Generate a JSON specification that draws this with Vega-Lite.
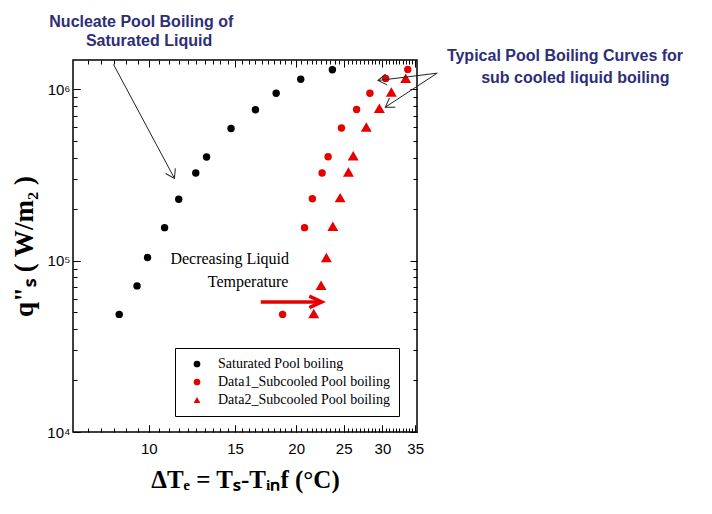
{
  "$schema": "https://vega.github.io/schema/vega-lite/v6.json",
  "width": 344,
  "height": 372,
  "autosize": {"type": "none"},
  "padding": {"left": 73, "top": 60, "right": 295, "bottom": 82},
  "background": "white",
  "config": {
    "view": {"stroke": "black", "strokeWidth": 1.5},
    "axis": {"labelColor": "black", "titleColor": "black"}
  },
  "resolve": {"axis": {"x": "independent", "y": "independent"}},
  "encoding": {
    "x": {"field": "dT", "type": "quantitative", "scale": {"type": "log", "domain": [7, 35.3], "nice": false, "zero": false}, "axis": null},
    "y": {"field": "q", "type": "quantitative", "scale": {"type": "log", "domain": [10000, 1486000], "nice": false, "zero": false}, "axis": null}
  },
  "layer": [
    {
      "data": {"values": [
        {"dT": 8.70, "q": 48600, "series": "Saturated Pool boiling"},
        {"dT": 9.46, "q": 71300, "series": "Saturated Pool boiling"},
        {"dT": 9.94, "q": 104500, "series": "Saturated Pool boiling"},
        {"dT": 10.77, "q": 156000, "series": "Saturated Pool boiling"},
        {"dT": 11.51, "q": 228700, "series": "Saturated Pool boiling"},
        {"dT": 12.47, "q": 325500, "series": "Saturated Pool boiling"},
        {"dT": 13.12, "q": 403600, "series": "Saturated Pool boiling"},
        {"dT": 14.72, "q": 592000, "series": "Saturated Pool boiling"},
        {"dT": 16.51, "q": 761000, "series": "Saturated Pool boiling"},
        {"dT": 18.20, "q": 951000, "series": "Saturated Pool boiling"},
        {"dT": 20.43, "q": 1148000, "series": "Saturated Pool boiling"},
        {"dT": 23.71, "q": 1303000, "series": "Saturated Pool boiling"},
        {"dT": 18.76, "q": 48600, "series": "Data1_Subcooled Pool boiling"},
        {"dT": 20.80, "q": 156000, "series": "Data1_Subcooled Pool boiling"},
        {"dT": 21.58, "q": 230000, "series": "Data1_Subcooled Pool boiling"},
        {"dT": 22.59, "q": 325500, "series": "Data1_Subcooled Pool boiling"},
        {"dT": 23.24, "q": 405000, "series": "Data1_Subcooled Pool boiling"},
        {"dT": 24.74, "q": 596000, "series": "Data1_Subcooled Pool boiling"},
        {"dT": 26.57, "q": 763000, "series": "Data1_Subcooled Pool boiling"},
        {"dT": 28.29, "q": 951000, "series": "Data1_Subcooled Pool boiling"},
        {"dT": 30.46, "q": 1158000, "series": "Data1_Subcooled Pool boiling"},
        {"dT": 33.80, "q": 1310000, "series": "Data1_Subcooled Pool boiling"},
        {"dT": 33.47, "q": 1164000, "series": "Data2_Subcooled Pool boiling"},
        {"dT": 31.29, "q": 965000, "series": "Data2_Subcooled Pool boiling"},
        {"dT": 29.57, "q": 778000, "series": "Data2_Subcooled Pool boiling"},
        {"dT": 27.81, "q": 603000, "series": "Data2_Subcooled Pool boiling"},
        {"dT": 26.15, "q": 410600, "series": "Data2_Subcooled Pool boiling"},
        {"dT": 25.57, "q": 329500, "series": "Data2_Subcooled Pool boiling"},
        {"dT": 24.59, "q": 233600, "series": "Data2_Subcooled Pool boiling"},
        {"dT": 23.76, "q": 159000, "series": "Data2_Subcooled Pool boiling"},
        {"dT": 23.05, "q": 104400, "series": "Data2_Subcooled Pool boiling"},
        {"dT": 22.48, "q": 72000, "series": "Data2_Subcooled Pool boiling"},
        {"dT": 21.72, "q": 49200, "series": "Data2_Subcooled Pool boiling"}
      ]},
      "mark": {"type": "point", "filled": true, "opacity": 1},
      "encoding": {
        "x": {
          "field": "dT", "type": "quantitative",
          "scale": {"type": "log", "domain": [7, 35.3], "nice": false, "zero": false},
          "axis": {
            "orient": "bottom",
            "values": [10, 15, 20, 25, 30, 35],
            "format": "d",
            "domain": false,
            "grid": false,
            "ticks": true,
            "tickColor": "black",
            "tickWidth": 1,
            "offset": -7,
            "tickSize": 7,
            "labelPadding": 9,
            "labelFlush": false,
            "labelOverlap": false,
            "labelFont": "Liberation Sans",
            "labelFontSize": 15,
            "title": "ΔTₑ = Tₛ-Tᵢₙf (°C)",
            "titleFont": "Liberation Serif",
            "titleFontSize": 25,
            "titleFontWeight": "bold",
            "titlePadding": 11
          }
        },
        "y": {
          "field": "q", "type": "quantitative",
          "scale": {"type": "log", "domain": [10000, 1486000], "nice": false, "zero": false},
          "axis": {
            "orient": "left",
            "values": [10000, 100000, 1000000],
            "labelExpr": "datum.value === 10000 ? '10⁴' : datum.value === 100000 ? '10⁵' : '10⁶'",
            "domain": false,
            "grid": false,
            "ticks": true,
            "tickColor": "black",
            "tickWidth": 1,
            "offset": -7,
            "tickSize": 7,
            "labelPadding": 3,
            "labelOverlap": false,
            "labelFlush": false,
            "labelFont": "Liberation Sans",
            "labelFontSize": 15,
            "title": "q\"ₛ ( W/m₂ )",
            "titleFont": "Liberation Serif",
            "titleFontSize": 27,
            "titleFontWeight": "bold",
            "titlePadding": 8
          }
        },
        "color": {
          "field": "series", "type": "nominal",
          "scale": {"domain": ["Saturated Pool boiling", "Data1_Subcooled Pool boiling", "Data2_Subcooled Pool boiling"], "range": ["black", "#e60000", "#e60000"]},
          "legend": {"orient": "none", "legendX": 102, "legendY": 288, "title": null, "strokeColor": "black", "fillColor": "white", "padding": 9, "labelFont": "Liberation Serif", "labelFontSize": 14, "labelColor": "black", "symbolSize": 45, "rowPadding": 4, "labelOffset": 14, "symbolOffset": 6, "labelLimit": 300}
        },
        "shape": {
          "field": "series", "type": "nominal",
          "scale": {"domain": ["Saturated Pool boiling", "Data1_Subcooled Pool boiling", "Data2_Subcooled Pool boiling"], "range": ["circle", "circle", "triangle-up"]},
          "legend": {"orient": "none", "legendX": 102, "legendY": 288, "title": null, "strokeColor": "black", "fillColor": "white", "padding": 9, "labelFont": "Liberation Serif", "labelFontSize": 14, "labelColor": "black", "symbolSize": 45, "rowPadding": 4, "labelOffset": 14, "symbolOffset": 6, "labelLimit": 300}
        },
        "size": {
          "condition": {"test": "datum.series === 'Data2_Subcooled Pool boiling'", "value": 120},
          "value": 55
        }
      }
    },
    {
      "data": {"values": [
        {"dT": 8.47, "q": 1399000, "dT2": 11.28, "q2": 302700},
        {"dT": 38.82, "q": 1245000, "dT2": 29.38, "q2": 1128000},
        {"dT": 38.82, "q": 1245000, "dT2": 30.42, "q2": 788500}
      ]},
      "mark": {"type": "rule", "color": "#222222", "strokeWidth": 1},
      "encoding": {
        "x": {
          "field": "dT", "type": "quantitative",
          "scale": {"type": "log", "domain": [7, 35.3], "nice": false, "zero": false},
          "axis": {"orient": "top", "values": [10, 15, 20, 25, 30, 35], "labels": false, "domain": false, "ticks": false, "grid": true, "gridColor": "black", "gridOpacity": 1, "gridWidth": 1, "gridDash": [7, 358, 7, 1000], "title": null}
        },
        "y": {
          "field": "q", "type": "quantitative",
          "scale": {"type": "log", "domain": [10000, 1486000], "nice": false, "zero": false},
          "axis": {"orient": "right", "values": [10000, 100000, 1000000], "labels": false, "domain": false, "ticks": false, "grid": true, "gridColor": "black", "gridOpacity": 1, "gridWidth": 1, "gridDash": [7, 330, 7, 1000], "title": null}
        },
        "x2": {"field": "dT2"},
        "y2": {"field": "q2"}
      }
    },
    {
      "data": {"values": [{"dT": 11.28, "q": 302700}]},
      "mark": {"type": "point", "shape": "M-0.65,1L0,0L0.65,1", "size": 280, "angle": 152, "filled": false, "color": "#222222", "strokeWidth": 1, "opacity": 1},
      "encoding": {
        "x": {
          "field": "dT", "type": "quantitative",
          "scale": {"type": "log", "domain": [7, 35.3], "nice": false, "zero": false},
          "axis": {"orient": "top", "values": [7.5, 8, 8.5, 9, 9.5, 10.5, 11, 11.5, 12, 12.5, 13, 13.5, 14, 14.5, 15.5, 16, 16.5, 17, 17.5, 18, 18.5, 19, 19.5, 20.5, 21, 21.5, 22, 22.5, 23, 23.5, 24, 24.5, 25.5, 26, 26.5, 27, 27.5, 28, 28.5, 29, 29.5, 30.5, 31, 31.5, 32, 32.5, 33, 33.5, 34, 34.5], "labels": false, "domain": false, "ticks": false, "grid": true, "gridColor": "black", "gridOpacity": 1, "gridWidth": 1, "gridDash": [4, 364, 4, 1000], "title": null}
        },
        "y": {
          "field": "q", "type": "quantitative",
          "scale": {"type": "log", "domain": [10000, 1486000], "nice": false, "zero": false},
          "axis": {"orient": "right", "values": [20000, 30000, 40000, 50000, 60000, 70000, 80000, 90000, 200000, 300000, 400000, 500000, 600000, 700000, 800000, 900000], "labels": false, "domain": false, "ticks": false, "grid": true, "gridColor": "black", "gridOpacity": 1, "gridWidth": 1, "gridDash": [4, 336, 4, 1000], "title": null}
        }
      }
    },
    {
      "data": {"values": [{"dT": 29.38, "q": 1128000}]},
      "mark": {"type": "point", "shape": "M-0.65,1L0,0L0.65,1", "size": 280, "angle": 263, "filled": false, "color": "#222222", "strokeWidth": 1, "opacity": 1}
    },
    {
      "data": {"values": [{"dT": 30.42, "q": 788500}]},
      "mark": {"type": "point", "shape": "M-0.65,1L0,0L0.65,1", "size": 280, "angle": 237, "filled": false, "color": "#222222", "strokeWidth": 1, "opacity": 1}
    },
    {
      "data": {"values": [{"dT": 16.93, "q": 57500, "dT2": 22.3, "q2": 57500}]},
      "mark": {"type": "rule", "color": "#e60000", "strokeWidth": 3.5},
      "encoding": {"x2": {"field": "dT2"}, "y2": {"field": "q2"}}
    },
    {
      "data": {"values": [{"dT": 22.55, "q": 57500}]},
      "mark": {"type": "point", "shape": "M-0.46,1L0,0L0.46,1", "size": 615, "angle": 90, "filled": false, "color": "#e60000", "strokeWidth": 3.5, "opacity": 1}
    },
    {
      "data": {"values": [
        {"dT": 9.652, "q": 2329000, "label": "Nucleate Pool Boiling of"},
        {"dT": 10.01, "q": 1793000, "label": "Saturated Liquid"},
        {"dT": 70.8, "q": 1457000, "label": "Typical Pool Boiling Curves for"},
        {"dT": 74.36, "q": 1084000, "label": "sub cooled liquid boiling"}
      ]},
      "mark": {"type": "text", "align": "center", "baseline": "alphabetic", "font": "Liberation Sans", "fontSize": 16, "fontWeight": "bold", "color": "#2e2e78"},
      "encoding": {"text": {"field": "label"}}
    },
    {
      "data": {"values": [
        {"dT": 14.63, "q": 95400, "label": "Decreasing Liquid"},
        {"dT": 15.95, "q": 70350, "label": "Temperature"}
      ]},
      "mark": {"type": "text", "align": "center", "baseline": "alphabetic", "font": "Liberation Serif", "fontSize": 16, "color": "black"},
      "encoding": {"text": {"field": "label"}}
    }
  ]
}
